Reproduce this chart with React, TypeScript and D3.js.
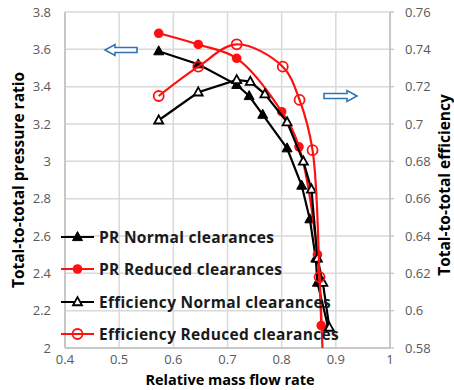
import React from "react";
import * as d3 from "d3";

const prNormalX = [0.573, 0.646, 0.717, 0.74, 0.765, 0.81, 0.837, 0.852, 0.863, 0.866, 0.886];
const prNormalY = [3.59, 3.52, 3.41, 3.35, 3.25, 3.07, 2.87, 2.69, 2.48, 2.35, 2.11];
const prReducedX = [0.573, 0.646, 0.717, 0.8, 0.832, 0.866, 0.873];
const prReducedY = [3.686, 3.626, 3.552, 3.266, 3.078, 2.5, 2.12];
const effNormalX = [0.573, 0.646, 0.717, 0.742, 0.769, 0.81, 0.84, 0.855, 0.866, 0.876, 0.888];
const effNormalY = [0.702, 0.717, 0.7236, 0.7227, 0.716, 0.701, 0.68, 0.665, 0.628, 0.615, 0.591];
const effReducedX = [0.573, 0.646, 0.717, 0.802, 0.833, 0.857, 0.87, 0.876];
const effReducedY = [0.715, 0.7307, 0.7427, 0.7307, 0.7129, 0.686, 0.618, 0.575];

const xTicks = [0.4, 0.5, 0.6, 0.7, 0.8, 0.9, 1];
const yLeftTicks = [2, 2.2, 2.4, 2.6, 2.8, 3, 3.2, 3.4, 3.6, 3.8];
const yRightTicks = [0.58, 0.6, 0.62, 0.64, 0.66, 0.68, 0.7, 0.72, 0.74, 0.76];
const legendLabels = [
  "PR Normal clearances",
  "PR Reduced clearances",
  "Efficiency Normal clearances",
  "Efficiency Reduced clearances",
];

const W = 454;
const H = 390;
const L = 65, R = 390, T = 12, B = 348;
const RED = "#ff1010";
const BLUE = "#2e75b6";
const FONT = "'Open Sans', 'Liberation Sans', sans-serif";

const x = d3.scaleLinear().domain([0.4, 1]).range([L, R]);
const yL = d3.scaleLinear().domain([2, 3.8]).range([B, T]);
const yR = d3.scaleLinear().domain([0.58, 0.76]).range([B, T]);

function tri(cx: number, cy: number, s: number) {
  const h = s * 0.9;
  return `M${cx},${cy - h * 0.6}L${cx + s / 2},${cy + h * 0.4}L${cx - s / 2},${cy + h * 0.4}Z`;
}

function Marker({ kind, cx, cy }: { kind: string; cx: number; cy: number }) {
  if (kind === "triFilled") return <path d={tri(cx, cy, 10)} fill="#000" stroke="#000" strokeWidth={1} />;
  if (kind === "triOpen") return <path d={tri(cx, cy, 9)} fill="#fff" stroke="#000" strokeWidth={1.8} />;
  if (kind === "circFilled") return <circle cx={cx} cy={cy} r={4.8} fill={RED} />;
  return <circle cx={cx} cy={cy} r={5} fill="none" stroke={RED} strokeWidth={1.8} />;
}

export default function App() {
  const series = [
    { xs: prNormalX, ys: prNormalY, sy: yL, color: "#000", kind: "triFilled", curve: d3.curveLinear },
    { xs: prReducedX, ys: prReducedY, sy: yL, color: RED, kind: "circFilled", curve: d3.curveCatmullRom.alpha(0.5) },
    { xs: effNormalX, ys: effNormalY, sy: yR, color: "#000", kind: "triOpen", curve: d3.curveLinear },
    { xs: effReducedX, ys: effReducedY, sy: yR, color: RED, kind: "circOpen", curve: d3.curveCatmullRom.alpha(0.5) },
  ];

  const legendY = [237, 269, 302, 334];

  const leftArrow = (() => {
    const tip = 105, end = 137, cy = 50, hw = 2.5, hh = 5.5, hl = 10;
    return `M${tip},${cy}L${tip + hl},${cy - hh}L${tip + hl},${cy - hw}L${end},${cy - hw}L${end},${cy + hw}L${tip + hl},${cy + hw}L${tip + hl},${cy + hh}Z`;
  })();
  const rightArrow = (() => {
    const tip = 357, start = 324, cy = 96, hw = 2.5, hh = 5.5, hl = 10;
    return `M${tip},${cy}L${tip - hl},${cy - hh}L${tip - hl},${cy - hw}L${start},${cy - hw}L${start},${cy + hw}L${tip - hl},${cy + hw}L${tip - hl},${cy + hh}Z`;
  })();

  return (
    <svg width={W} height={H} style={{ position: "absolute", left: 0, top: 0, background: "#fff" }} fontFamily={FONT}>
      <defs>
        <clipPath id="plot">
          <rect x={L} y={T} width={R - L} height={B - T} />
        </clipPath>
      </defs>
      <rect x={0} y={0} width={W} height={H} fill="#fff" />
      {/* grid */}
      {xTicks.map((t) => (
        <line key={"gx" + t} x1={x(t)} x2={x(t)} y1={T} y2={B} stroke="#d9d9d9" strokeWidth={1.5} />
      ))}
      {yLeftTicks.map((t) => (
        <line key={"gy" + t} x1={L} x2={R} y1={yL(t)} y2={yL(t)} stroke="#d9d9d9" strokeWidth={1.5} />
      ))}
      {/* axes */}
      <line x1={L} x2={L} y1={T} y2={B} stroke="#bfbfbf" strokeWidth={1.5} />
      <line x1={L} x2={R} y1={B} y2={B} stroke="#bfbfbf" strokeWidth={1.5} />
      <line x1={R} x2={R} y1={T} y2={B} stroke="#bfbfbf" strokeWidth={1.5} />
      {yRightTicks.map((t) => (
        <line key={"rt" + t} x1={R} x2={R + 4} y1={yR(t)} y2={yR(t)} stroke="#bfbfbf" strokeWidth={1.2} />
      ))}
      {/* tick labels */}
      {xTicks.map((t) => (
        <text key={"xl" + t} x={x(t)} y={364} textAnchor="middle" fontSize={13} fill="#595959">
          {String(t)}
        </text>
      ))}
      {yLeftTicks.map((t) => (
        <text key={"yl" + t} x={51} y={yL(t) + 4.5} textAnchor="end" fontSize={13} fill="#595959">
          {String(t)}
        </text>
      ))}
      {yRightTicks.map((t) => (
        <text key={"yr" + t} x={405} y={yR(t) + 4.5} textAnchor="start" fontSize={13} fill="#595959">
          {String(t)}
        </text>
      ))}
      {/* axis titles */}
      <text x={230} y={385} textAnchor="middle" fontSize={14.5} fontWeight={700} fill="#000">
        Relative mass flow rate
      </text>
      <text transform={`translate(24,${(T + B) / 2}) rotate(-90)`} textAnchor="middle" fontSize={15.5} fontWeight={700} fill="#000">
        Total-to-total pressure ratio
      </text>
      <text transform={`translate(450,${(T + B) / 2 + 5}) rotate(-90)`} textAnchor="middle" fontSize={15.5} fontWeight={700} fill="#000">
        Total-to-total efficiency
      </text>
      {/* arrows */}
      <path d={leftArrow} fill="#fff" stroke={BLUE} strokeWidth={1.6} />
      <path d={rightArrow} fill="#fff" stroke={BLUE} strokeWidth={1.6} />
      {/* series */}
      <g clipPath="url(#plot)">
        {series.map((s, i) => {
          const pts: [number, number][] = s.xs.map((v, j) => [x(v), s.sy(s.ys[j])]);
          const line = d3.line().curve(s.curve)(pts) || "";
          return (
            <g key={"s" + i}>
              <path d={line} fill="none" stroke={s.color} strokeWidth={2.2} />
              {pts.map((p, j) => (
                <Marker key={j} kind={s.kind} cx={p[0]} cy={p[1]} />
              ))}
            </g>
          );
        })}
      </g>
      {/* legend */}
      {legendLabels.map((lab, i) => {
        const s = series[i];
        const cy = legendY[i];
        return (
          <g key={"lg" + i}>
            <line x1={61} x2={94} y1={cy} y2={cy} stroke={s.color} strokeWidth={2.2} />
            <Marker kind={s.kind} cx={77.5} cy={cy} />
            <text x={99} y={cy + 5.5} fontSize={15.5} fontWeight={700} letterSpacing={0.3} fill="#1a1a1a">
              {lab}
            </text>
          </g>
        );
      })}
    </svg>
  );
}
